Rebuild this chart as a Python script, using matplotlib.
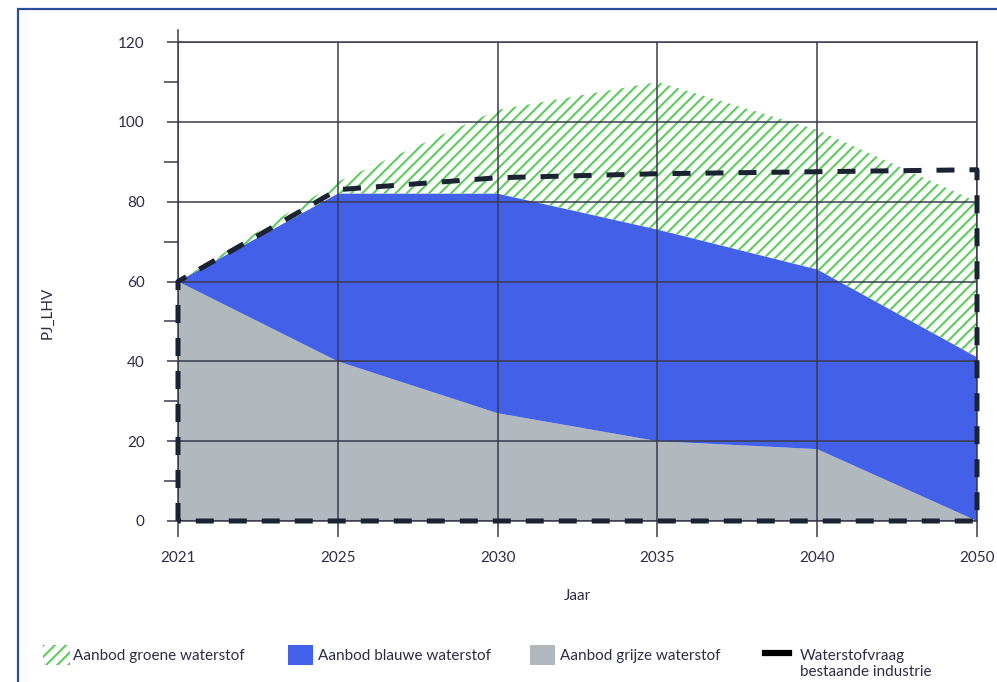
import matplotlib
matplotlib.use("Agg")
import matplotlib.pyplot as plt
from matplotlib.patches import Patch, Rectangle
from matplotlib.lines import Line2D
import numpy as np

# ---- data ----
years = ["2021", "2025", "2030", "2035", "2040", "2050"]
grijs = [60, 40, 27, 20, 18, 0]
blauw_top = [60, 82, 82, 73, 63, 41]
groen_top = [60, 85, 103, 110, 98, 80]
vraag = [60, 83, 86, 87, 87.5, 88]
y_ticks = [0, 20, 40, 60, 80, 100, 120]
legend_labels = ["Aanbod groene waterstof", "Aanbod blauwe waterstof",
                 "Aanbod grijze waterstof", "Waterstofvraag", "bestaande industrie"]

# ---- style ----
TXT = "#2d2d48"
GRID = "#3a3a4e"
C_GREEN = "#5ccc5c"
C_BLUE = "#4361e8"
C_GRAY = "#b1b8be"
C_DASH = "#1b2333"
plt.rcParams["font.family"] = ["Lato", "DejaVu Sans"]
plt.rcParams["hatch.linewidth"] = 1.5
FS = 11

fig = plt.figure(figsize=(9.97, 6.82), dpi=100)
ax = fig.add_axes([178/997, 1-521/682, (977-178)/997, (521-42)/682])

x = np.arange(len(years))
zeros = np.zeros(len(years))
ax.fill_between(x, zeros, grijs, facecolor=C_GRAY, lw=0, zorder=1)
ax.fill_between(x, grijs, blauw_top, facecolor=C_BLUE, lw=0, zorder=1)
ax.fill_between(x, blauw_top, groen_top, facecolor="none", edgecolor=C_GREEN,
                hatch="///", lw=0, zorder=1)

# demand outline (dashed)
ox = np.concatenate([[x[0]], x, [x[-1], x[0]]])
oy = np.concatenate([[0], vraag, [0, 0]])
ax.plot(ox, oy, color=C_DASH, lw=3.6, dashes=(3.6, 3.0),
        dash_capstyle="butt", zorder=4, clip_on=False)

ax.set_xlim(x[0], x[-1])
ax.set_ylim(0, 120)
ax.set_xticks(x)
ax.set_xticklabels(years)
ax.set_yticks(y_ticks)
ax.set_yticks(np.arange(10, 120, 20), minor=True)
ax.grid(True, which="major", color=GRID, lw=1.1, zorder=3)
ax.set_axisbelow(False)

for s in ax.spines.values():
    s.set_color(GRID)
    s.set_linewidth(1.1)
    s.set_zorder(3)
ax.spines["left"].set_bounds(0, 123)

ax.tick_params(axis="y", which="major", length=8, width=1.1, color=GRID,
               pad=16, labelsize=FS, labelcolor=TXT)
ax.tick_params(axis="y", which="minor", length=10, width=1.1, color=GRID)
ax.tick_params(axis="x", which="major", length=11.5, width=1.1, color=GRID,
               pad=10, labelsize=FS, labelcolor=TXT)

ax.set_xlabel("Jaar", fontsize=FS, color=TXT)
ax.xaxis.set_label_coords(0.5, -0.143)
ax.set_ylabel("PJ_LHV", fontsize=FS, color=TXT)
ax.yaxis.set_label_coords(-0.154, 0.435)

# ---- legend (separate entries) ----
handles = [
    Patch(facecolor="white", edgecolor=C_GREEN, hatch="///", lw=0),
    Patch(facecolor=C_BLUE, lw=0),
    Patch(facecolor=C_GRAY, lw=0),
    Line2D([], [], color="black", lw=4.5),
]
xs = [43, 288, 530, 765]
hl = [1.75, 1.65, 1.65, 1.6]
pads = [0.2, 0.3, 0.3, 0.65]
ly = 1 - 655/682
for h, lab, xp, l, p in zip(handles, legend_labels[:4], xs, hl, pads):
    fig.legend([h], [lab], loc="center left", bbox_to_anchor=(xp/997, ly),
               frameon=False, fontsize=FS, labelcolor=TXT, handlelength=l,
               handleheight=1.55, handletextpad=p, borderaxespad=0,
               borderpad=0)
fig.text(800/997, 1-672/682, legend_labels[4], fontsize=FS, color=TXT,
         ha="left", va="center")

# figure frame
fig.add_artist(Rectangle((18/997, -0.1), 1.2, 1 - 9/682 + 0.1,
                         transform=fig.transFigure, fill=False,
                         edgecolor="#2b4c9b", lw=1.6))

fig.savefig("out.png", dpi=100)
